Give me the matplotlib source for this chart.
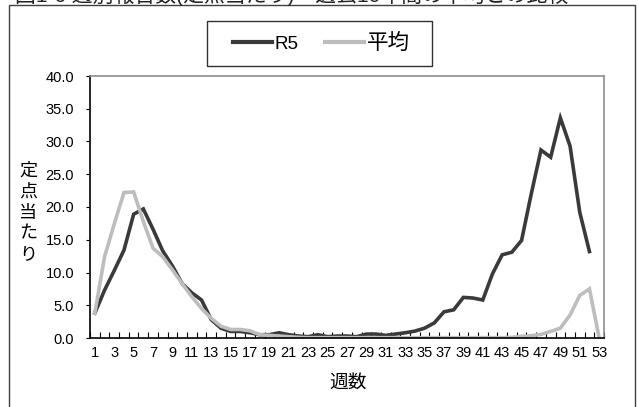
import matplotlib
matplotlib.use("Agg")
import matplotlib.pyplot as plt
from matplotlib.patches import Rectangle
import numpy as np

plt.rcParams['font.family'] = ['Liberation Sans', 'Noto Sans CJK JP']

# weekly reports per sentinel site
weeks = list(range(1, 54))
r5 = [3.8, 7.3, 10.3, 13.4, 18.9, 19.7, 16.6, 13.3, 11.0, 8.3,
      6.9, 5.8, 2.8, 1.5, 1.0, 1.0, 0.8, 0.5, 0.5, 0.8,
      0.5, 0.3, 0.2, 0.5, 0.2, 0.3, 0.3, 0.2, 0.6, 0.6,
      0.4, 0.6, 0.8, 1.05, 1.5, 2.3, 4.0, 4.3, 6.2, 6.1,
      5.8, 9.8, 12.7, 13.1, 14.9, 22.0, 28.7, 27.6, 33.6, 29.3,
      19.2, 13.2, None]
avg = [3.8, 12.4, 17.4, 22.2, 22.3, 17.8, 13.7, 12.4, 10.4, 8.3,
       6.3, 4.5, 3.0, 1.8, 1.3, 1.3, 1.1, 0.5, 0.4, 0.3,
       0.2, 0.1, 0.05, 0.05, 0.05, 0.05, 0.05, 0.05, 0.05, 0.05,
       0.05, 0.05, 0.05, 0.05, 0.05, 0.05, 0.05, 0.05, 0.05, 0.05,
       0.05, 0.05, 0.05, 0.1, 0.25, 0.35, 0.55, 1.0, 1.5, 3.5,
       6.5, 7.5, 0.0]

W, H = 638, 407
fig = plt.figure(figsize=(W / 100, H / 100), dpi=100)

# outer chart frame
fig.patches.append(Rectangle((9 / W, -0.05), (635 - 9) / W, 1 - 5 / H + 0.05,
                             transform=fig.transFigure, fill=False,
                             edgecolor='#404040', lw=1.0))
# legend box
fig.patches.append(Rectangle((207 / W, 1 - 66 / H), (432 - 207) / W, 45 / H,
                             transform=fig.transFigure, fill=False,
                             edgecolor='#333333', lw=1.0))

# title sits mostly above the top edge, as in the source image
fig.text(15 / W, 1 + 5 / H, '図1-6 週別報告数(定点当たり)　過去10年間の平均との比較',
         fontsize=15, ha='left', va='center', color='#222222')

ax = fig.add_axes([90 / W, 1 - 338 / H, (604 - 90) / W, (338 - 76) / H])

r5_y = np.array([np.nan if v is None else v for v in r5])
ax.plot(weeks, r5_y, color='#3a3a3a', lw=2.6, label='R5', solid_joinstyle='miter')
ax.plot(weeks, avg, color='#bdbdbd', lw=2.6, label='平均', solid_joinstyle='miter')

ax.set_xlim(0.5, 53.5)
ax.set_ylim(0, 40)
ax.set_yticks(np.arange(0, 41, 5))
ax.set_yticklabels([f'{v:.1f}' for v in np.arange(0, 41, 5)])
ax.set_xticks(weeks[::2])
ax.set_xticks(np.arange(0.5, 54, 1), minor=True)
ax.tick_params(axis='x', which='major', length=0, pad=6, labelsize=10.5)
ax.tick_params(axis='x', which='minor', direction='in', length=4, width=0.8)
ax.tick_params(axis='y', direction='out', length=3, width=0.8, pad=8.5, labelsize=10.5)

for s in ['top', 'right']:
    ax.spines[s].set_color('#8c8c8c')
for s in ['left', 'bottom']:
    ax.spines[s].set_color('black')
for s in ax.spines.values():
    s.set_linewidth(1.2)

fig.text(28 / W, 1 - 213 / H, '定\n点\n当\nた\nり', fontsize=13,
         ha='center', va='center', linespacing=1.3)
fig.text(348 / W, 1 - 383 / H, '週数', fontsize=13.5, ha='center', va='center')

leg = ax.legend(loc='center', bbox_to_anchor=(321.5 / W, 1 - 43.5 / H),
                bbox_transform=fig.transFigure, ncol=2, fontsize=13.5,
                handlelength=2.05, handletextpad=0.18, columnspacing=1.4,
                frameon=False)
leg.get_texts()[1].set_fontsize(15.5)
for line in leg.get_lines():
    line.set_linewidth(3)

fig.savefig('out.png', dpi=100)
